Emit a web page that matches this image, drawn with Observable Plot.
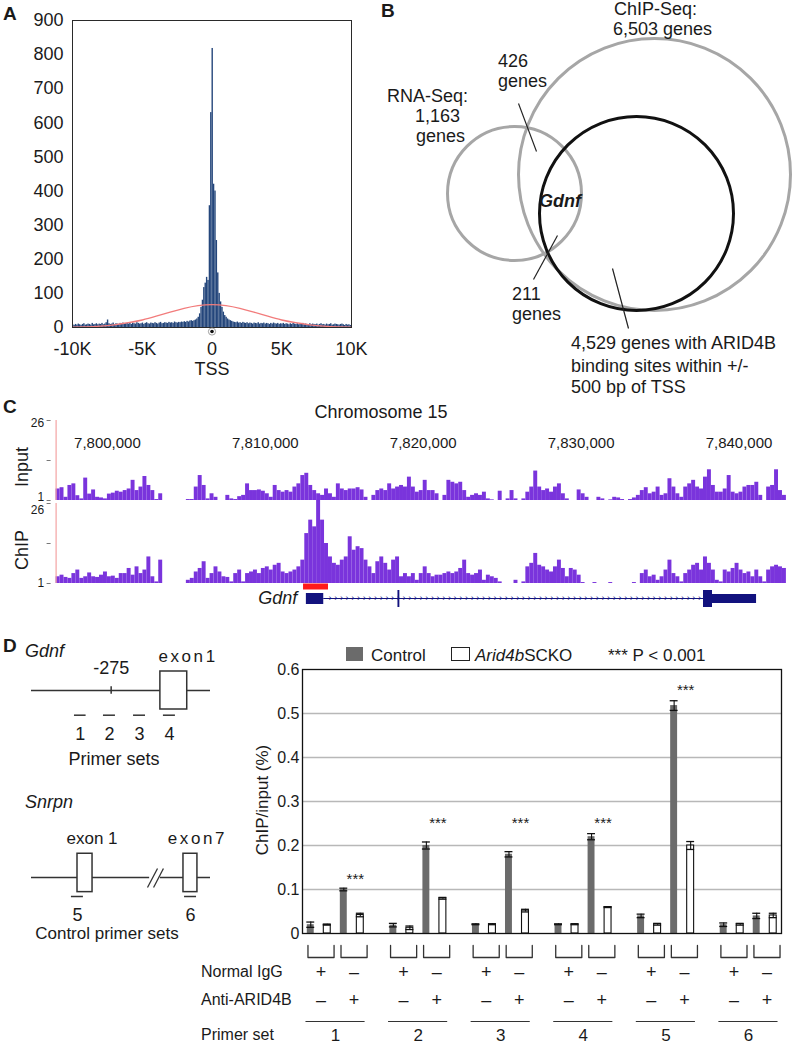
<!DOCTYPE html>
<html><head><meta charset="utf-8">
<script src="https://cdn.jsdelivr.net/npm/d3@7"></script>
<script src="https://cdn.jsdelivr.net/npm/@observablehq/plot@0.6"></script>
<style>
body{margin:0;background:#fff;}
#fig{position:relative;width:800px;height:1047px;overflow:hidden;font-family:Arial,"Liberation Sans",Helvetica,sans-serif;color:#1a1a1a;background:#fff;}
#fig svg{position:absolute;overflow:visible;}
.t{position:absolute;white-space:nowrap;line-height:1;}
.sw{position:absolute;box-sizing:border-box;}
</style></head><body><div id="fig"></div>
<script>
// ---------------- DATA ----------------
// Panel A: ARID4B peak distance to TSS (100-bp bins from -10 kb)
const tssBinStart = -10000, tssBinWidth = 100;
const tssCounts = [
 8,6,9,7,10,8,6,9,11,7,8,10,9,7,12,8,9,11,8,10,
 9,12,8,10,14,22,11,9,10,13,8,11,10,9,12,10,13,9,11,12,
 10,12,9,13,11,10,14,12,10,11,13,9,12,14,11,10,13,12,11,14,
 12,10,13,15,11,12,14,13,12,15,13,14,12,16,14,13,15,14,16,15,
 17,15,18,16,19,20,18,20,22,25,30,40,59,80,117,130,147,138,357,630,
 818,420,400,255,160,100,75,59,45,35,30,25,22,20,18,16,15,14,16,13,
 14,12,15,13,12,14,11,13,12,10,13,12,11,14,10,12,11,13,10,12,
 11,9,12,10,13,11,10,12,9,11,10,12,9,11,10,8,11,9,12,10,
 9,11,8,10,9,12,8,10,9,7,11,8,10,9,8,10,7,9,11,8,
 9,7,10,8,9,11,7,8,10,9,8,7,9,10,8,6,9,7,8,6];
const fitPos = [-10000,-9000,-8000,-7000,-6000,-5000,-4000,-3000,-2000,-1000,0,1000,2000,3000,4000,5000,6000,7000,8000,9000,10000];
const fitVal = [1,2,4,8,14,22,33,45,56,64,67,64,56,45,33,22,14,8,4,2,1];
const countTicks = [0,100,200,300,400,500,600,700,800,900];
const tssTicks = [-10000,-5000,0,5000,10000];
const tssTickLabels = ["-10K","-5K","0","5K","10K"];

// Panel B: Venn
const vennSets = ["RNA-Seq","ChIP-Seq","ARID4B sites within +/- 500 bp of TSS"];
const vennGenes = [1163, 6503, 4529];
const vennOverlaps = [426, 211];
const vennLayout = [{cx:134, cy:193, r:67, tone:"gray"}, {cx:274, cy:174, r:136, tone:"gray"}, {cx:256, cy:213, r:97, tone:"black"}];
const vennLeaders = [{x1:138,y1:103,x2:156,y2:151},{x1:177,y1:235,x2:153,y2:279},{x1:232,y1:268,x2:248,y2:328}];

// Panel C: genome browser tracks (250-bp bins)
const chrName = "Chromosome 15";
const chrTicks = [7800000,7810000,7820000,7830000,7840000];
const trackStart = 7796750, trackEnd = 7843000, trackBin = 250;
const trackAxisTicks = [1, 13.5, 26];
const inputSignal = [
 4.6,5,2,5.7,6.2,2.5,1.5,8,3,4.3,
 2,1.8,1.5,3,3.3,3.9,3.6,4.1,4.6,7.3,
 4.1,5.2,8.5,5.7,4.1,1.3,3.1,null,null,null,
 null,null,null,1.3,1.3,5.2,8.8,5.7,1.5,3.1,
 2,null,null,2.6,1.5,1.3,2.2,2.6,6.2,4.1,
 4.1,4.3,3.9,3.1,2,5.7,4.1,3.6,4.1,3.6,
 5.2,6.2,8.8,9.5,5.7,4.1,3.1,2.6,4.6,3.1,
 2,6.2,4.6,4.1,4.6,4.6,5,4.3,2,null,
 2.6,4.1,4.6,4.1,6.2,4.6,5.2,5.7,5.2,8.3,
 5.2,3.6,4.1,7.3,4.1,4.1,3.1,null,2.6,7.3,
 6.7,6.2,6.7,4.1,2,2.6,3.1,2.6,3.6,1.5,
 1.2,null,3.9,null,1.5,4.1,1.5,null,1.5,3.6,
 5.2,10.2,5.2,4.1,4.6,3.6,5.2,6.2,3.1,1.5,
 null,null,4.3,3.1,2,null,null,2,1.5,null,
 1.2,2,1.8,1.3,null,1.3,1.8,2.6,4.1,5,
 3.1,3.6,5.2,2.6,3.1,7.8,5.2,3.1,2,5.2,
 6.2,7.3,5.2,4.6,8.3,10.6,5.7,3.6,3.6,4.6,
 8.8,3.6,3.1,3.6,5.2,5.7,5.7,6.7,2.6,null,
 5.2,5.7,10.6,4.1,2.6];
const chipSignal = [
 3.1,3.6,2.9,2.6,4.1,5.2,2.6,3.1,4.3,3.1,
 2.9,3.6,4.6,3.1,3.3,2.6,4.1,4.1,5.7,3.6,
 6.2,4.1,5.2,9.3,3.1,1.5,8.3,null,null,null,
 null,null,null,2,2.6,4.6,5.7,7.8,2.6,4.1,
 6.2,4.6,3.1,2.9,1.5,4.1,5.2,1.5,4.1,4.6,
 5.2,4.1,5.7,6.2,5.2,6.7,7.3,4.6,4.1,4.6,
 5.2,6.2,8.3,16.6,20.8,18.7,27,20.8,13.5,9.3,
 7.3,6.7,8.3,9.3,15.6,11.4,12.5,11.9,8.3,6.2,
 4.1,7.8,9.3,7.3,5.2,8.3,9.3,3.1,4.1,3.1,
 4.1,2,4.1,6.2,4.1,3.1,3.6,3.6,4.1,4.6,
 4.1,4.6,5.7,8.3,4.1,3.6,4.1,5.2,2,3.6,
 3.1,2.6,1.5,null,null,null,2,null,1.5,6.2,
 7.3,10.4,6.7,6.2,5.2,4.6,6.2,8.3,5.7,3.1,
 5.7,5.2,3.6,1.3,null,null,1.3,null,null,null,
 1.3,null,null,null,null,null,1.3,null,4.1,5.2,
 3.1,3.6,2,3.1,5.2,8.3,4.1,3.1,1.5,4.1,
 5.2,6.7,7.3,5.2,9.3,7.3,5.2,2,1.5,5.2,
 4.6,5.7,7.3,5.2,4.1,4.6,3.1,5.2,3.1,1.5,
 5.2,6.2,6.7,6.2,5.7];
const chipPeak = [{start:7812420, end:7814000}];
const gdnfGene = [{name:"Gdnf", start:7812600, end:7841110}];
const gdnfExons = [
 {start:7812600, end:7813700, part:"utr5"},
 {start:7818400, end:7818520, part:"cds"},
 {start:7837750, end:7838320, part:"cds"},
 {start:7838320, end:7841110, part:"utr3"}];

// Panel D left: schematics
const gdnfSpan = [[-720, 280]];
const gdnfExon1 = [{name:"exon1", start:0, end:150}];
const gdnfSite = [-275];
const gdnfPrimers = [{id:"1", start:-480, end:-415},{id:"2", start:-318, end:-251},{id:"3", start:-150, end:-83},{id:"4", start:17, end:84}];
const snrpnSegments = [[0, 66], [72, 100]];
const snrpnBreak = [{x1:64.8, x2:70.4}, {x1:68.2, x2:73.7}];
const snrpnExons = [{name:"exon 1", start:25.7, end:34.1},{name:"exon7", start:84.9, end:92.7}];
const snrpnPrimers = [{id:"5", start:22.3, end:29},{id:"6", start:85.5, end:92.2}];

// Panel D right: ChIP-qPCR
const primerSets = ["1","2","3","4","5","6"];
const genotypes = ["Control","Arid4bSCKO","Control","Arid4bSCKO"];
const antibodies = ["Normal IgG","Normal IgG","Anti-ARID4B","Anti-ARID4B"];
const chipMean = [
 [0.020,0.020,0.100,0.042],
 [0.019,0.013,0.200,0.080],
 [0.021,0.021,0.180,0.052],
 [0.021,0.021,0.220,0.060],
 [0.040,0.021,0.518,0.200],
 [0.020,0.021,0.040,0.041]];
const chipErr = [
 [0.006,0.001,0.003,0.004],
 [0.004,0.004,0.008,0.002],
 [0.001,0.001,0.006,0.003],
 [0.001,0.001,0.007,0.001],
 [0.004,0.002,0.011,0.009],
 [0.004,0.002,0.006,0.005]];
const sigMarkY = [0.132, 0.259, 0.259, 0.259, 0.561, null];
const pctTicks = [0,0.1,0.2,0.3,0.4,0.5,0.6];
const pctGrid = [0.1,0.2,0.3,0.4,0.5];

// ---------------- HELPERS ----------------
const FONT = 'Arial, "Liberation Sans", Helvetica, sans-serif';
const INK = "#1a1a1a";
const fig = document.getElementById("fig");
const baseStyle = (fs) => ({fontFamily: FONT, fontSize: fs + "px", color: INK, background: "transparent", overflow: "visible"});
function place(svg, left, top) { svg.style.left = left + "px"; svg.style.top = top + "px"; svg.style.maxWidth = "none"; fig.appendChild(svg); }
function label(html, x, base, o = {}) {
  const fs = o.size || 18;
  const d = document.createElement("div");
  d.className = "t"; d.innerHTML = html;
  d.style.fontSize = fs + "px";
  d.style.left = x + "px";
  d.style.top = (base - 0.8465 * fs) + "px";
  if (o.weight) d.style.fontWeight = o.weight;
  if (o.italic) d.style.fontStyle = "italic";
  if (o.anchor === "middle") d.style.transform = "translateX(-50%)";
  if (o.anchor === "end") d.style.transform = "translateX(-100%)";
  fig.appendChild(d);
}
function vlabel(html, cx, cy, fs) {
  const d = document.createElement("div");
  d.className = "t"; d.innerHTML = html; d.style.fontSize = fs + "px";
  d.style.left = cx + "px"; d.style.top = cy + "px";
  d.style.transform = "translate(-50%,-50%) rotate(-90deg)";
  fig.appendChild(d);
}
function swatch(left, top, w, h, css) {
  const d = document.createElement("div"); d.className = "sw";
  Object.assign(d.style, {left: left + "px", top: top + "px", width: w + "px", height: h + "px"}, css);
  fig.appendChild(d);
}

// ---------------- PANEL A ----------------
const tssBins = tssCounts.map((c, i) => ({x1: tssBinStart + i * tssBinWidth, x2: tssBinStart + (i + 1) * tssBinWidth, count: c}));
const fitRows = fitPos.map((p, i) => ({pos: p, val: fitVal[i]}));
place(Plot.plot({
  width: 380, height: 380, marginLeft: 72, marginRight: 29, marginTop: 20, marginBottom: 53,
  style: baseStyle(18),
  x: {domain: [-10000, 10000], label: null},
  y: {domain: [0, 900], label: null},
  marks: [
    Plot.rectY(tssBins, {x1: "x1", x2: "x2", y: "count", fill: "#24467b"}),
    Plot.line(fitRows, {x: "pos", y: "val", stroke: "#f27c7c", strokeWidth: 1.3, curve: "natural"}),
    Plot.frame({stroke: "#2a2a2a", strokeWidth: 1}),
    Plot.dot([0], {x: d => d, frameAnchor: "bottom", dy: 4, r: 3.6, fill: "white", stroke: "#888", strokeWidth: 0.8}),
    Plot.dot([0], {x: d => d, frameAnchor: "bottom", dy: 4, r: 1.8, fill: "#111"}),
    Plot.axisY({ticks: countTicks, tickSize: 0, tickPadding: 9, fontSize: 18, label: null}),
    Plot.axisX({ticks: tssTicks, tickFormat: d => tssTickLabels[tssTicks.indexOf(d)], tickSize: 0, tickPadding: 15, fontSize: 18, label: null}),
    Plot.text(["TSS"], {frameAnchor: "bottom", dy: 47, text: d => d, fontSize: 18})
  ]
}), 0, 0);
label("A", 3, 20, {weight: "bold", size: 19});

// ---------------- PANEL B ----------------
place(Plot.plot({
  width: 420, height: 400, margin: 0,
  style: baseStyle(18),
  x: {domain: [0, 420], range: [0, 420], axis: null},
  y: {domain: [0, 400], range: [0, 400], axis: null},
  r: {type: "identity"},
  marks: [
    Plot.dot(vennLayout.filter(d => d.tone === "gray"), {x: "cx", y: "cy", r: "r", fill: "none", stroke: "#a6a6a6", strokeWidth: 3}),
    Plot.dot(vennLayout.filter(d => d.tone === "black"), {x: "cx", y: "cy", r: "r", fill: "none", stroke: "#111", strokeWidth: 3}),
    Plot.link(vennLeaders, {x1: "x1", y1: "y1", x2: "x2", y2: "y2", stroke: "#222", strokeWidth: 1.2})
  ]
}), 380, 0);
const fmt = d3.format(",");
label("B", 381, 17, {weight: "bold", size: 19});
label("ChIP-Seq:", 614, 15.5);
label(fmt(vennGenes[1]) + " genes", 613, 35);
label(String(vennOverlaps[0]), 498, 67);
label("genes", 498, 87);
label("RNA-Seq:", 387, 102);
label(fmt(vennGenes[0]), 415, 122);
label("genes", 416, 142);
label("Gdnf", 539, 207, {weight: "bold", italic: true});
label(String(vennOverlaps[1]), 512, 300);
label("genes", 512, 320);
label(fmt(vennGenes[2]) + " genes with ARID4B", 571, 349);
label("binding sites within +/-", 571, 372);
label("500 bp of TSS", 571, 393);

// ---------------- PANEL C ----------------
const TRACK_PURPLE = "#7a34dc";
function trackBins(sig) {
  return sig.map((v, i) => ({x1: trackStart + i * trackBin, x2: trackStart + (i + 1) * trackBin, v})).filter(d => d.v != null);
}
function trackPlot(sig, extra) {
  return Plot.plot({
    width: 800, height: 100, marginLeft: 55.6, marginRight: 14.1, marginTop: 20, marginBottom: 0,
    style: baseStyle(12),
    x: {domain: [trackStart, trackEnd], axis: null},
    y: {domain: [1, 26], axis: null},
    marks: [
      Plot.rectY(trackBins(sig), {x1: "x1", x2: "x2", y1: 1, y2: "v", fill: TRACK_PURPLE}),
      Plot.ruleX([trackStart], {stroke: "#f4a3a3", strokeWidth: 1.2}),
      Plot.axisY({ticks: trackAxisTicks, tickFormat: () => "", tickSize: 4, dx: -5, stroke: "#777", label: null}),
      ...extra
    ]
  });
}
const inputExtra = [
  Plot.text(chrTicks, {x: d => d, text: d => fmt(d), frameAnchor: "top", dy: 17, fontSize: 15}),
  Plot.text([26], {y: d => d, text: d => String(d), frameAnchor: "left", dx: -12, textAnchor: "end", dy: 3, fontSize: 12}),
  Plot.text([1], {y: d => d, text: d => String(d), frameAnchor: "left", dx: -12, textAnchor: "end", lineAnchor: "bottom", fontSize: 12})
];
const chipExtra = [
  Plot.text([26], {y: d => d, text: d => String(d), frameAnchor: "left", dx: -12, textAnchor: "end", lineAnchor: "top", dy: 2, fontSize: 12}),
  Plot.text([1], {y: d => d, text: d => String(d), frameAnchor: "left", dx: -12, textAnchor: "end", fontSize: 12})
];
place(trackPlot(inputSignal, inputExtra), 0, 400);
place(trackPlot(chipSignal, chipExtra), 0, 483);

const GENE_BLUE = "#12127e";
const intron = [{start: gdnfExons[0].end, end: gdnfExons[2].start}];
const chevrons = d3.range(intron[0].start + 400, intron[0].end - 200, 360);
const exonHeight = {utr5: 11, cds: 17, utr3: 9};
place(Plot.plot({
  width: 800, height: 40, marginLeft: 55.6, marginRight: 14.1, marginTop: 0, marginBottom: 0,
  style: baseStyle(18),
  x: {domain: [trackStart, trackEnd], axis: null},
  y: {type: "point", domain: ["peak", "gene"], range: [6, 18], padding: 0, axis: null},
  marks: [
    Plot.ruleY(chipPeak, {x1: "start", x2: "end", y: () => "peak", stroke: "#ff1a1a", strokeWidth: 6}),
    Plot.ruleY(intron, {x1: "start", x2: "end", y: () => "gene", stroke: GENE_BLUE, strokeWidth: 1.2}),
    Plot.text(chevrons, {x: d => d, y: () => "gene", text: () => "›", fill: GENE_BLUE, fontSize: 9}),
    ...["utr5", "cds", "utr3"].map(p => Plot.ruleY(gdnfExons.filter(e => e.part === p), {x1: "start", x2: "end", y: () => "gene", stroke: GENE_BLUE, strokeWidth: exonHeight[p]})),
    Plot.text(gdnfGene, {x: "start", y: () => "gene", text: "name", textAnchor: "end", dx: -9, fontStyle: "italic", fontSize: 18})
  ]
}), 0, 580);
label("C", 3, 413, {weight: "bold", size: 19});
label(chrName, 381, 418, {anchor: "middle"});
vlabel("Input", 22, 467, 18);
vlabel("ChIP", 22, 550, 18);

// ---------------- PANEL D (schematics) ----------------
const LINE = "#333";
const gdnfSvg = Plot.plot({
  width: 260, height: 152, marginLeft: 31, marginRight: 50, marginTop: 0, marginBottom: 0,
  style: baseStyle(18),
  x: {domain: [-720, 280], axis: null},
  y: {domain: [-5, 3], axis: null},
  marks: [
    Plot.ruleY(gdnfSpan, {x1: d => d[0], x2: d => d[1], y: 0, stroke: LINE, strokeWidth: 1.5}),
    Plot.ruleX(gdnfSite, {x: d => d, y1: -0.2, y2: 0.2, stroke: LINE, strokeWidth: 1.5}),
    Plot.rect(gdnfExon1, {x1: "start", x2: "end", y1: -1, y2: 1, fill: "white", stroke: LINE, strokeWidth: 1.5}),
    Plot.ruleY(gdnfPrimers, {x1: "start", x2: "end", y: -1.3, stroke: LINE, strokeWidth: 1.5}),
    Plot.text(gdnfPrimers, {x: d => (d.start + d.end) / 2, y: -2.3, text: "id", fontSize: 18}),
    Plot.text(gdnfSite, {x: d => d, y: 1.16, text: d => String(d), fontSize: 18}),
    Plot.text(gdnfExon1, {x: "start", y: 1.79, text: "name", textAnchor: "start", dx: -2, fontSize: 17})
  ]
});
place(gdnfSvg, 0, 633);
const snrpnSvg = Plot.plot({
  width: 260, height: 152, marginLeft: 31, marginRight: 50, marginTop: 0, marginBottom: 0,
  style: baseStyle(17),
  x: {domain: [0, 100], axis: null},
  y: {domain: [-5, 3], axis: null},
  marks: [
    Plot.ruleY(snrpnSegments, {x1: d => d[0], x2: d => d[1], y: 0, stroke: LINE, strokeWidth: 1.5}),
    Plot.link(snrpnBreak, {x1: "x1", x2: "x2", y1: -0.53, y2: 0.47, stroke: LINE, strokeWidth: 1.3}),
    Plot.rect(snrpnExons, {x1: "start", x2: "end", y1: -0.77, y2: 1.25, fill: "white", stroke: LINE, strokeWidth: 1.5}),
    Plot.ruleY(snrpnPrimers, {x1: "start", x2: "end", y: -1.0, stroke: LINE, strokeWidth: 1.5}),
    Plot.text(snrpnPrimers, {x: d => (d.start + d.end) / 2, y: -2.0, text: "id", fontSize: 18}),
    Plot.text(snrpnExons, {x: d => (d.start + d.end) / 2, y: 2.05, text: "name", dx: 7, fontSize: 17})
  ]
});
place(snrpnSvg, 0, 820);
d3.selectAll([gdnfSvg, snrpnSvg]).selectAll("text").filter(function() { return /^exon\d$/.test(this.textContent); }).attr("letter-spacing", "2.6px");
label("D", 3, 652, {weight: "bold", size: 19});
label("Gdnf", 25, 657, {italic: true});
label("Primer sets", 114, 765, {anchor: "middle"});
label("Snrpn", 25, 808, {italic: true});
label("Control primer sets", 107, 939, {anchor: "middle", size: 17});

// ---------------- PANEL D (bar chart) ----------------
const bars = [];
primerSets.forEach((p, g) => genotypes.forEach((gt, j) => bars.push({
  set: p, genotype: gt, antibody: antibodies[j], slot: 5 * g + j, mean: chipMean[g][j], err: chipErr[g][j]})));
const sigRows = primerSets.map((p, g) => ({g, y: sigMarkY[g]})).filter(d => d.y != null);
const HALF = 0.21;
place(Plot.plot({
  width: 800, height: 293, marginLeft: 302, marginRight: 19, marginTop: 29, marginBottom: 0,
  style: baseStyle(16),
  x: {domain: [-0.5, 28.5], axis: null},
  y: {domain: [0, 0.6], label: null},
  marks: [
    Plot.ruleY(pctGrid, {stroke: "#b8b8b8", strokeWidth: 1.6}),
    Plot.rectY(bars.filter(d => d.genotype === "Control"), {x1: d => d.slot - HALF, x2: d => d.slot + HALF, y: "mean", fill: "#6b6b6b"}),
    Plot.rectY(bars.filter(d => d.genotype !== "Control"), {x1: d => d.slot - HALF, x2: d => d.slot + HALF, y: "mean", fill: "white", stroke: "#111", strokeWidth: 1.1}),
    Plot.ruleX(bars, {x: "slot", y1: d => d.mean - d.err, y2: d => d.mean + d.err, stroke: "#111", strokeWidth: 1.1}),
    Plot.ruleY(bars, {x1: d => d.slot - 0.24, x2: d => d.slot + 0.24, y: d => d.mean + d.err, stroke: "#111", strokeWidth: 1.3}),
    Plot.ruleY(bars, {x1: d => d.slot - 0.24, x2: d => d.slot + 0.24, y: d => d.mean - d.err, stroke: "#111", strokeWidth: 1.3}),
    Plot.text(sigRows, {x: d => 5 * d.g + 2.7, y: "y", text: () => "***", dy: 4, fontSize: 15}),
    Plot.frame({stroke: "#111", strokeWidth: 1.3}),
    Plot.axisY({ticks: pctTicks, tickFormat: d => d === 0 ? "0" : d3.format(".1f")(d), tickSize: 0, tickPadding: 3, fontSize: 16, label: null})
  ]
}), 0, 640);
vlabel("ChIP/input (%)", 262, 800, 17);
swatch(346, 647, 17, 14, {background: "#6b6b6b"});
label("Control", 371, 661, {size: 17});
swatch(451, 647, 19, 14, {border: "1.4px solid #222", background: "#fff"});
label("<i>Arid4b</i>SCKO", 475, 661, {size: 17});
label("*** P &lt; 0.001", 608, 661, {size: 17});

// table under the bars
const rowY = {bTop: 10, bBot: 22, igg: 37, anti: 65, rule: 86, set: 100};
const pairs = [];
primerSets.forEach((p, g) => [0, 1].forEach(k => pairs.push({g, k, mid: 5 * g + 2 * k + 0.5, antibody: antibodies[2 * k]})));
const bracketPts = pairs.flatMap((d, i) => [
  {b: i, x: d.mid - 0.79, y: rowY.bTop}, {b: i, x: d.mid - 0.79, y: rowY.bBot},
  {b: i, x: d.mid + 0.79, y: rowY.bBot}, {b: i, x: d.mid + 0.79, y: rowY.bTop}]);
place(Plot.plot({
  width: 800, height: 112, marginLeft: 302, marginRight: 19, marginTop: 0, marginBottom: 0,
  style: baseStyle(17),
  x: {domain: [-0.5, 28.5], axis: null},
  y: {domain: [0, 112], range: [0, 112], axis: null},
  marks: [
    Plot.line(bracketPts, {x: "x", y: "y", z: "b", stroke: "#333", strokeWidth: 1.3, dx: 2}),
    Plot.text(pairs, {x: "mid", y: rowY.igg, text: d => d.antibody === "Normal IgG" ? "+" : "–", dx: 2, fontSize: 18}),
    Plot.text(pairs, {x: "mid", y: rowY.anti, text: d => d.antibody === "Anti-ARID4B" ? "+" : "–", dx: 2, fontSize: 18}),
    Plot.ruleY(primerSets, {x1: (d, i) => 5 * i + 1.5 - 1.79, x2: (d, i) => 5 * i + 1.5 + 1.79, y: rowY.rule, stroke: "#333", strokeWidth: 1.2}),
    Plot.text(primerSets, {x: (d, i) => 5 * i + 1.5, y: rowY.set, text: d => d, fontSize: 17})
  ]
}), 0, 935);
label("Normal IgG", 201, 978, {size: 16});
label("Anti-ARID4B", 201, 1006, {size: 16});
label("Primer set", 201, 1041, {size: 16});
</script></body></html>
